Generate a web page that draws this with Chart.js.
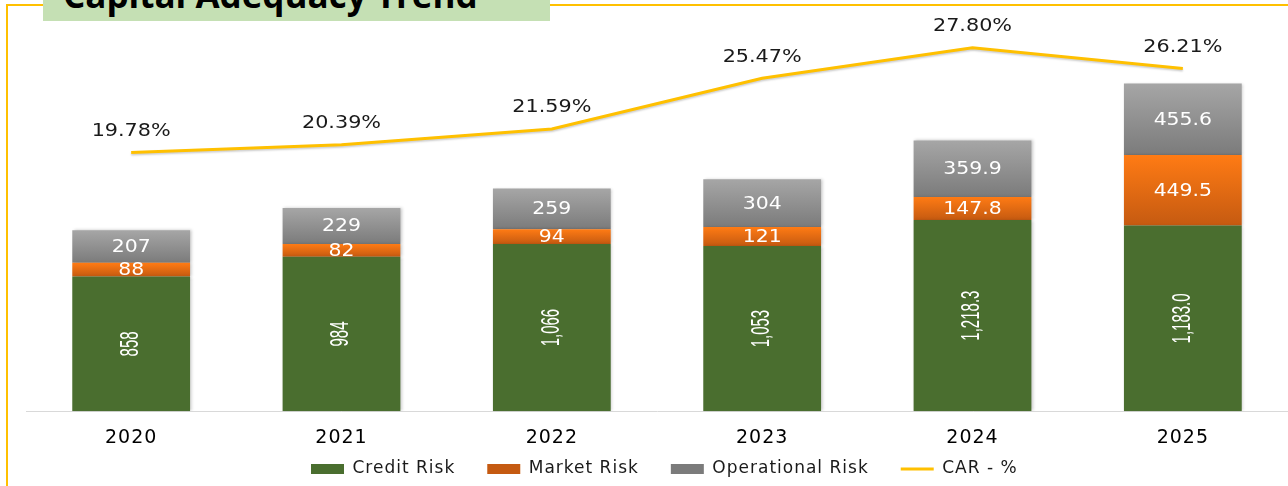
<!DOCTYPE html>
<html>
<head>
<meta charset="utf-8">
<script src="https://cdn.jsdelivr.net/npm/chart.js@4.4.1/dist/chart.umd.min.js"></script>
<style>
  html, body { margin: 0; padding: 0; background: #fff; }
  #wrap { position: relative; width: 1288px; height: 486px; overflow: hidden; }
  /* marco amarillo de la diapositiva */
  #marco { position: absolute; left: 6px; top: 4px; width: 1400px; height: 600px;
           border-top: 2px solid #FFC000; border-left: 2px solid #FFC000; }
  #titulo { position: absolute; left: 43px; top: 0; width: 507px; height: 21px;
            background: #C5E0B4; overflow: hidden; z-index: 2; }
  #titulo span { position: absolute; left: 20px; top: -29px; white-space: nowrap;
                 font: bold 35px 'Open Sans', sans-serif; color: #000; }
  #lienzo { position: absolute; left: 0; top: 0; z-index: 1; }
</style>
</head>
<body>
<div id="wrap">
  <div id="marco"></div>
  <div id="titulo"><span>Capital Adequacy Trend</span></div>
  <canvas id="lienzo" width="1288" height="486"></canvas>
</div>
<script>
/* Datos */
const ANIOS = ["2020", "2021", "2022", "2023", "2024", "2025"];
const RIESGO_CREDITO = [858, 984, 1066, 1053, 1218.3, 1183.0];
const RIESGO_MERCADO = [88, 82, 94, 121, 147.8, 449.5];
const RIESGO_OPERACIONAL = [207, 229, 259, 304, 359.9, 455.6];
const CAR = [19.78, 20.39, 21.59, 25.47, 27.80, 26.21];
const DECIMALES = [0, 0, 0, 0, 1, 1];

const LEYENDA_X = 311;
const LEYENDA_Y = 469;

function formato(v, i) {
  return v.toLocaleString("en-US", { minimumFractionDigits: DECIMALES[i], maximumFractionDigits: DECIMALES[i] });
}

/** Degradado vertical por segmento de barra apilada */
function degradado(arriba, abajo, plano, inferiores) {
  return function (c) {
    if (c.type !== "data") return plano;
    const chart = c.chart;
    const y = chart.scales.y;
    if (!chart.chartArea || !y) return plano;
    const base = inferiores.reduce((s, arr) => s + arr[c.dataIndex], 0);
    const top = y.getPixelForValue(base + c.dataset.data[c.dataIndex]);
    const bottom = y.getPixelForValue(base);
    if (!isFinite(top) || !isFinite(bottom) || top === bottom) return plano;
    const g = chart.ctx.createLinearGradient(0, top, 0, bottom);
    g.addColorStop(0, arriba);
    g.addColorStop(1, abajo);
    return g;
  };
}

function textoEstirado(ctx, txt, x, y, escala, rot) {
  ctx.save();
  ctx.translate(x, y);
  if (rot) ctx.rotate(rot);
  ctx.scale(escala, 1);
  ctx.fillText(txt, 0, 0);
  ctx.restore();
}

const etiquetas = {
  id: "etiquetas",
  afterDatasetsDraw(chart) {
    const ctx = chart.ctx;
    ctx.save();
    ctx.textAlign = "center";
    ctx.textBaseline = "middle";

    // credito: texto vertical condensado
    ctx.fillStyle = "#fff";
    ctx.font = "25px 'Liberation Sans', sans-serif";
    chart.getDatasetMeta(0).data.forEach((b, i) => {
      textoEstirado(ctx, formato(RIESGO_CREDITO[i], i), b.x, (b.y + b.base) / 2, 0.6, -Math.PI / 2);
    });

    // mercado y operacional
    ctx.font = "17px 'DejaVu Sans', sans-serif";
    [[1, RIESGO_MERCADO], [2, RIESGO_OPERACIONAL]].forEach(([idx, serie]) => {
      chart.getDatasetMeta(idx).data.forEach((b, i) => {
        textoEstirado(ctx, formato(serie[i], i), b.x, (b.y + b.base) / 2 + 1, 1.2, 0);
      });
    });

    // CAR %
    ctx.fillStyle = "#1a1a1a";
    chart.getDatasetMeta(3).data.forEach((p, i) => {
      textoEstirado(ctx, CAR[i].toFixed(2) + "%", p.x, p.y - 21, 1.22, 0);
    });
    ctx.restore();
  }
};

const sombras = {
  id: "sombras",
  beforeDatasetDraw(chart, args) {
    const ctx = chart.ctx;
    ctx.save();
    if (args.meta.type === "bar") {
      ctx.shadowColor = "rgba(0,0,0,0.22)";
      ctx.shadowBlur = 3;
      ctx.shadowOffsetX = 1.5;
    } else {
      ctx.shadowColor = "rgba(0,0,0,0.2)";
      ctx.shadowBlur = 2;
      ctx.shadowOffsetY = 1.5;
    }
  },
  afterDatasetDraw(chart) {
    chart.ctx.restore();
  }
};

// la leyenda casi no ocupa sitio en el layout; se ubica a mano y con texto algo espaciado
const ubicarLeyenda = {
  id: "ubicarLeyenda",
  afterLayout(chart) {
    const l = chart.legend;
    if (!l) return;
    const lab = l.options.labels;
    const alto = Math.max(lab.font.size || 17, lab.boxHeight);
    l.left = LEYENDA_X - lab.padding;
    l.right = 1288;
    l.top = LEYENDA_Y - lab.padding - alto / 2;
    l.bottom = 486;
  },
  beforeDraw(chart) {
    chart.ctx.letterSpacing = "1px";
  },
  beforeDatasetsDraw(chart) {
    chart.ctx.letterSpacing = "0px";
  }
};

new Chart(document.getElementById("lienzo").getContext("2d"), {
  type: "bar",
  data: {
    labels: ANIOS,
    datasets: [
      {
        label: "Credit Risk",
        data: RIESGO_CREDITO,
        backgroundColor: "#4A6E2F",
        pointStyle: "rect",
        barPercentage: 0.56,
        categoryPercentage: 1
      },
      {
        label: "Market Risk",
        data: RIESGO_MERCADO,
        backgroundColor: degradado("#FF7B14", "#C55A11", "#EE6E12", [RIESGO_CREDITO]),
        pointStyle: "rect",
        barPercentage: 0.56,
        categoryPercentage: 1
      },
      {
        label: "Operational Risk",
        data: RIESGO_OPERACIONAL,
        backgroundColor: degradado("#A6A6A6", "#7B7B7B", "#959595", [RIESGO_CREDITO, RIESGO_MERCADO]),
        pointStyle: "rect",
        barPercentage: 0.56,
        categoryPercentage: 1
      },
      {
        type: "line",
        label: "CAR - %",
        data: CAR,
        yAxisID: "y1",
        borderColor: "#FFC000",
        backgroundColor: "#FFC000",
        borderWidth: 3,
        pointRadius: 0,
        pointStyle: "line",
        tension: 0
      }
    ]
  },
  options: {
    responsive: false,
    animation: false,
    layout: { padding: { left: 26, top: 19, right: 0, bottom: 29 } },
    scales: {
      x: {
        stacked: true,
        grid: { display: false },
        border: { display: true, color: "#D9D9D9", width: 1 },
        ticks: { color: "#000", padding: 7, font: { family: "'DejaVu Sans', sans-serif", size: 19 } }
      },
      y: { stacked: true, display: false, min: 0, max: 2500 },
      y1: { display: false, min: 0, max: 30, position: "right" }
    },
    plugins: {
      tooltip: { enabled: false },
      legend: {
        position: "bottom",
        align: "start",
        maxHeight: 1,
        labels: {
          usePointStyle: true,
          pointStyleWidth: 33,
          boxHeight: 10,
          padding: 32,
          color: "#1a1a1a",
          font: { family: "'DejaVu Sans', sans-serif", size: 17 }
        }
      }
    }
  },
  plugins: [sombras, etiquetas, ubicarLeyenda]
});
</script>
</body>
</html>
